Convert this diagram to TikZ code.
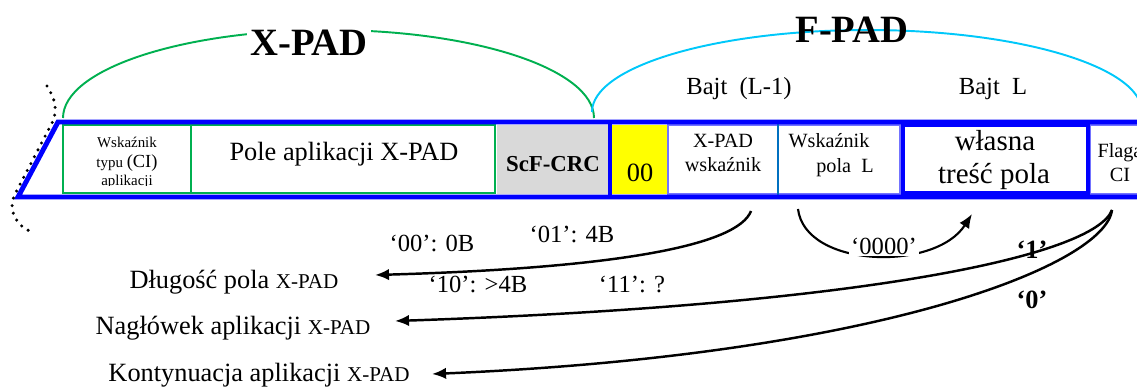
\documentclass[tikz,border=0pt]{standalone}
\usepackage{fontspec}
\setmainfont{Liberation Serif}
\usepackage{tikz}
\usetikzlibrary{arrows.meta}

\definecolor{padblue}{RGB}{0,0,255}
\definecolor{padgreen}{RGB}{0,176,80}
\definecolor{padcyan}{RGB}{0,200,250}
\definecolor{padsteel}{RGB}{0,112,192}
\definecolor{padgray}{RGB}{217,217,217}
\definecolor{padyellow}{RGB}{255,255,0}

\newcommand{\fsz}[2]{\fontsize{#1}{#2}\selectfont}

\tikzset{
  lbl/.style={inner sep=0pt, anchor=base},
  small/.style={font=\fsz{11.5}{14}},
  med/.style={font=\fsz{14}{17}},
  big/.style={font=\fsz{15}{18}},
  arr/.style={-{Latex[length=8pt,width=6.5pt]}, line width=1.4pt},
  cell/.style={draw=padblue!55, line width=0.6pt},
}

\begin{document}
\begin{tikzpicture}[x=0.02cm, y=-0.02cm]
    \useasboundingbox (0,0) rectangle (1137,388);
    \clip (0,0) rectangle (1137,388);

    % Fields of the frame
    \fill[padgray] (497,125) rectangle (608,194);
    \fill[padyellow] (612,125) rectangle (668,194);
    \draw[padgreen, line width=1.2pt] (63,125) rectangle (191,193);
    \draw[padgreen, line width=1.2pt] (191,125) rectangle (495,193);
    \draw[cell] (668,125) rectangle (778,194);
    \draw[cell] (778,125) rectangle (900,194);
    \draw[cell] (1090,125) rectangle (1150,194);
    \draw[padsteel, line width=1.2pt] (778,124) -- (778,195);
    \draw[padblue, line width=1.8pt] (610,122) -- (610,196);
    \draw[padblue, line width=2.3pt] (903,125) rectangle (1088,193);

    % Text of the first field, cut at the bottom
    \begin{scope}
      \clip (63,125) rectangle (191,186);
      \node[lbl, font=\fsz{8.5}{10}] (ci1) at (127,148) {Wskaźnik};
      \node[lbl, font=\fsz{8.5}{10}] (ci2) at (127,168) {typu {\fsz{10.5}{12}(CI)}};
      \node[lbl, font=\fsz{8.5}{10}] (ci3) at (127,186) {aplikacji};
    \end{scope}

    % Outline of the frame
    \draw[padblue, line width=2.8pt] (1150,122) -- (58,122) -- (18,197) -- (1150,197);

    % Dotted break on the left
    \draw[line width=1.9pt, line cap=round, dash pattern=on 0pt off 4.4pt]
      (47,86) .. controls (56,100) and (57,110) .. (53,121) -- (14,196)
      .. controls (8,210) and (16,226) .. (32,232);

    % Field texts
    \node[lbl, big] (pole) at (344,161) {Pole aplikacji X-PAD};
    \node[lbl, font=\fsz{13}{15}\bfseries] (crc) at (553,172) {ScF-CRC};
    \node[lbl, big] (zz) at (640,182) {00};
    \foreach \n/\x/\y/\t in {xw1/723/148/X-PAD, xw2/723/172/wskaźnik, wl1/829/148/Wskaźnik,
                             wl2/845/173/pola~~L, fl1/1120/158/Flaga, fl2/1120/182/CI} {
      \node[lbl, small] (\n) at (\x,\y) {\t};
    }
    \node[lbl, font=\fsz{16.5}{20}] (wt1) at (995,151) {własna};
    \node[lbl, font=\fsz{16.5}{20}] (wt2) at (994,184) {treść pola};

    % Braces over X-PAD and F-PAD
    \draw[padgreen, line width=1.1pt] (63,118) arc[start angle=180, end angle=360, x radius=265.5, y radius=88];
    \draw[padcyan, line width=1.1pt] (592,112) arc[start angle=180, end angle=360, x radius=275, y radius=82];
    \node[fill=white, inner sep=2pt, font=\fsz{22}{26}\bfseries] (xpad) at (309,43) {X-PAD};
    \node[font=\fsz{22}{26}\bfseries] (fpad) at (852,30) {F-PAD};
    \node[med] (b1) at (739,89) {Bajt~~(L-1)};
    \node[med] (b2) at (993,89) {Bajt~~L};

    % Meanings on the left
    \node[lbl, big] (dl) at (234,289) {Długość pola {\fsz{12}{14}X-PAD}};
    \node[lbl, big] (ng) at (233,335) {Nagłówek aplikacji {\fsz{12}{14}X-PAD}};
    \node[lbl, big] (kt) at (259,382) {Kontynuacja aplikacji {\fsz{12}{14}X-PAD}};

    % Arrows
    \coordinate (xw-out) at (751,211);
    \coordinate (dl-in) at (375,275);
    \coordinate (wl-out) at (798,209);
    \coordinate (wt-in) at (972,214);
    \coordinate (fl-out) at (1112,210);
    \coordinate (ng-in) at (395,321);
    \coordinate (kt-in) at (432,374);
    \draw[arr] (xw-out) .. controls (738,245) and (620,268) .. (dl-in);
    \draw[arr, line width=1.2pt] (wl-out) .. controls (805,268) and (935,272) .. (wt-in);
    \draw[arr] (fl-out) .. controls (1095,255) and (870,305) .. (ng-in);
    \draw[arr] (fl-out) .. controls (1105,265) and (880,355) .. (kt-in);

    % Arrow labels
    \foreach \n/\x/\y/\t in {c00/432/243/‘00’: 0B, c01/572/234/‘01’: 4B,
                             c10/478/284/‘10’: >4B, c11/632/284/‘11’: ?} {
      \node[med] (\n) at (\x,\y) {\t};
    }
    \node[med, fill=white, inner sep=1pt] (nul) at (884,246) {‘0000’};
    \node[font=\fsz{15}{18}\bfseries] (one) at (1032,250) {‘1’};
    \node[font=\fsz{15}{18}\bfseries] (zero) at (1032,300) {‘0’};
  \end{tikzpicture}
\end{document}
